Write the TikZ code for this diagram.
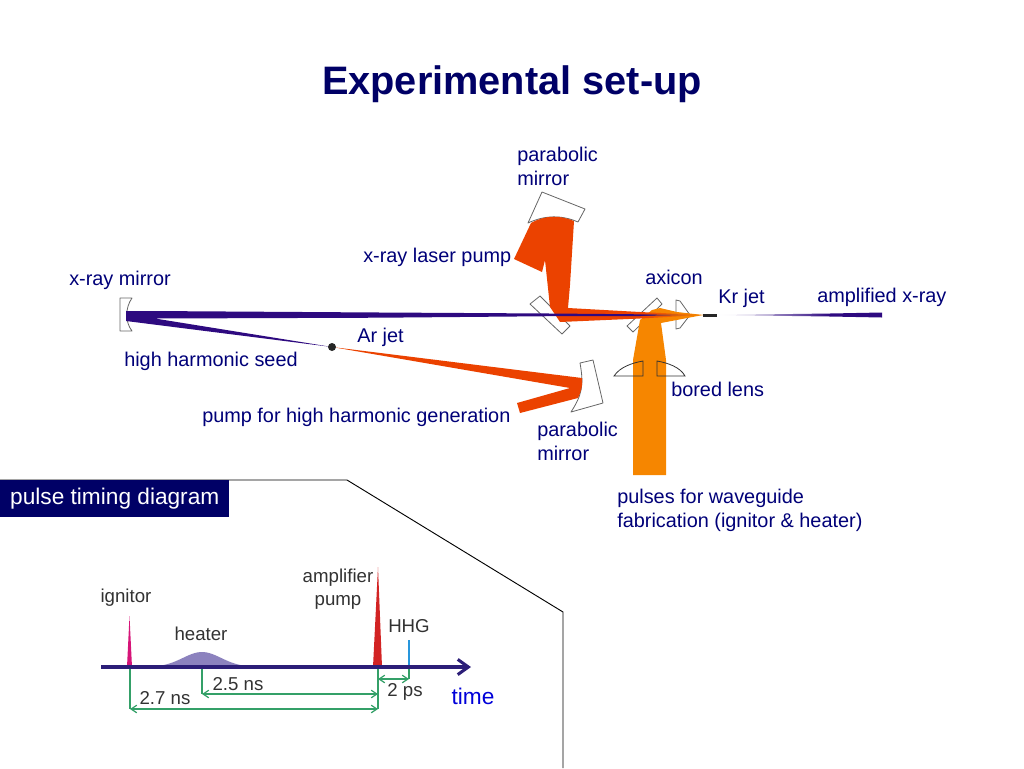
\documentclass[tikz,border=0pt]{standalone}
\usepackage{fontspec}
\setmainfont{Liberation Sans}
\usetikzlibrary{arrows.meta}
\definecolor{cnavy}{RGB}{0,0,120}
\definecolor{cbox}{RGB}{0,0,102}
\definecolor{cxray}{RGB}{46,10,128}
\definecolor{cpump}{RGB}{235,66,0}
\definecolor{cwave}{RGB}{246,134,0}
\definecolor{cgreen}{RGB}{52,160,104}
\definecolor{caxis}{RGB}{44,30,120}
\definecolor{ctext}{RGB}{50,50,50}
\definecolor{cign}{RGB}{214,20,120}
\definecolor{cheat}{RGB}{140,130,190}
\definecolor{camp}{RGB}{210,35,35}
\definecolor{chhg}{RGB}{40,150,220}
\tikzset{
  lbl/.style={font=\fontsize{14.9}{18}\selectfont, text=cnavy, inner sep=0pt, align=left},
  tlbl/.style={font=\fontsize{14}{17}\selectfont, text=ctext, inner sep=0pt, align=center},
  optic/.style={draw=gray!80!black, fill=white, line width=0.6pt, line join=round},
  lensline/.style={draw=black!80, line width=0.6pt},
  timearr/.style={{Straight Barb[length=1.5mm,width=2mm]}-{Straight Barb[length=1.5mm,width=2mm]}, cgreen, line width=0.9pt},
  drop/.style={cgreen, line width=0.9pt},
}
\begin{document}
\begin{tikzpicture}[x=0.75pt,y=-0.75pt]
  \useasboundingbox (0,0) rectangle (1024,768);
  \node[font=\fontsize{29.8}{36}\bfseries\selectfont, text=cbox, inner sep=0pt, anchor=base] (title) at (512,94) {Experimental set-up};
  % optics under the beams
  \draw[optic] (528,223) -- (542,192) -- (585,209) -- (578,222) .. controls (562,215) and (545,215) .. (528,223) -- cycle;
  \draw[optic] (120,298) -- (132,298) .. controls (125,308) and (125,322) .. (132,331) -- (120,331) -- cycle;
  \draw[optic] (530,304) -- (540,296) -- (570,326) -- (562,334) -- cycle;
  \draw[optic] (580,363) -- (593,360) -- (603,403) -- (571,412) .. controls (582,395) and (584,385) .. (580,363) -- cycle;
  \draw[optic] (627,326) -- (657,298) -- (662,304) -- (633,332) -- cycle;
  \draw[optic] (676,300) -- (680,301) -- (690,315) -- (680,328) -- (676,329) -- cycle;
  % beams
  \fill[cwave] (633,475) -- (633,360) -- (640,320) -- (652,310) -- (660,308) -- (677,312) -- (703,315) -- (661,323) -- (666,360) -- (666,475) -- cycle;
  \fill[cpump] (531,223) .. controls (545,215) and (560,215) .. (574,221) -- (570,285) -- (568,308) -- (640,312) -- (640,318.5) -- (560,322) -- (550,307) -- (545,260) -- (542,272) -- (514,259) -- cycle;
  \shade[left color=cpump, right color=cwave] (640,312) -- (703,315) -- (640,318.5) -- cycle;
  \fill[cpump] (332,347) -- (582,378) .. controls (583,385) and (581,392) .. (578,398) -- (520,413) -- (517,403) -- (570,388) -- cycle;
  \fill[cxray] (126,311) -- (150,311) -- (380,312.5) -- (550,313.5) -- (640,314.3) -- (640,316) -- (550,316.2) -- (380,317.7) -- (155,318.5) -- (332,347) -- (126,321) -- cycle;
  \shade[left color=cxray, right color=cwave] (640,314.3) -- (700,315) -- (640,316) -- cycle;
  \shade[left color=white, right color=cxray] (718,315) -- (830,313.5) -- (830,316.5) -- cycle;
  \fill[cxray] (830,313.5) -- (882,312.5) -- (882,317.5) -- (830,316.5) -- cycle;
  % lens outlines on top
  \draw[lensline] (614,376) .. controls (620,367) and (632,363) .. (643,361) -- (643,376) -- cycle;
  \draw[lensline] (657,361) .. controls (668,363) and (680,367) .. (685,376) -- (657,376) -- cycle;
  \fill[black!85] (703,313.5) rectangle (717,317);
  \fill[black!85] (332,347) circle (4);
  % labels
  \node[lbl, anchor=north west] (parup) at (517,147) {parabolic\\mirror};
  \node[lbl, anchor=base west] (laspump) at (363,262) {x-ray laser pump};
  \node[lbl, anchor=base west] (xmirror) at (69,285) {x-ray mirror};
  \node[lbl, anchor=base west] (axicon) at (645,284) {axicon};
  \node[lbl, anchor=base west] (krjet) at (718,303) {Kr jet};
  \node[lbl, anchor=base west] (ampx) at (817,302) {amplified x-ray};
  \node[lbl, anchor=base west] (arjet) at (357,342) {Ar jet};
  \node[lbl, anchor=base west] (seed) at (124,366) {high harmonic seed};
  \node[lbl, anchor=base west] (hhgpump) at (202,422) {pump for high harmonic generation};
  \node[lbl, anchor=north west] (pardown) at (537,422) {parabolic\\mirror};
  \node[lbl, anchor=base west] (bored) at (671,396) {bored lens};
  \node[lbl, anchor=north west] (wavepulse) at (617,489) {pulses for waveguide\\fabrication (ignitor \& heater)};
  % timing panel
  \coordinate (fr0) at (0,480); \coordinate (fr1) at (347,480); \coordinate (fr2) at (563,612); \coordinate (fr3) at (563,768);
  \draw[black, line width=0.7pt] (fr0) -- (fr1) -- (fr2) -- (fr3);
  \node[fill=cbox, text=white, font=\fontsize{17}{20}\selectfont, minimum width=171.75pt, minimum height=27.75pt, inner sep=0pt, anchor=north west] (ptd) at (0,480) {pulse timing diagram};
  \coordinate (axs) at (101,667); \coordinate (axe) at (471,667);
  \coordinate (ign) at (130,667); \coordinate (heat) at (202,667); \coordinate (amp) at (378,667); \coordinate (hhg) at (409,667);
  \coordinate (ignb) at (130,709); \coordinate (heatb) at (202,694); \coordinate (ampm) at (378,694); \coordinate (ampb) at (378,709);
  \coordinate (amps) at (378,679); \coordinate (hhgs) at (409,679);
  \fill[cign] (127,667) -- (129.5,616) -- (132,667) -- cycle;
  \fill[camp] (373,667) -- (378,567) -- (382,667) -- cycle;
  \fill[cheat] plot[domain=146:258, samples=40, smooth] (\x,{667-15*exp(-((\x-202)/27)^2)}) -- cycle;
  \draw[chhg, line width=1.6pt] (hhg) -- (409,640);
  \draw[drop] (ign) -- (ignb); \draw[drop] (heat) -- (heatb); \draw[drop] (amp) -- (ampb); \draw[drop] (hhg) -- (hhgs);
  \draw[timearr] (ignb) -- (ampb);
  \draw[timearr] (heatb) -- (ampm);
  \draw[timearr] (amps) -- (hhgs);
  \draw[caxis, line width=2.3pt, -{Straight Barb[length=2.8mm,width=4mm]}] (axs) -- (axe);
  \node[tlbl] (tign) at (126,598) {ignitor};
  \node[tlbl] (theat) at (201,634) {heater};
  \node[tlbl] (tamp) at (338,589) {amplifier\\pump};
  \node[tlbl] (thhg) at (409,626) {HHG};
  \node[tlbl] (t25) at (238,684) {2.5 ns};
  \node[tlbl] (t27) at (165,698) {2.7 ns};
  \node[tlbl] (t2) at (405,692) {2 ps};
  \node[font=\fontsize{17}{20}\selectfont, text=blue!85!black, inner sep=0pt] (ttime) at (473,696) {time};
\end{tikzpicture}
\end{document}
